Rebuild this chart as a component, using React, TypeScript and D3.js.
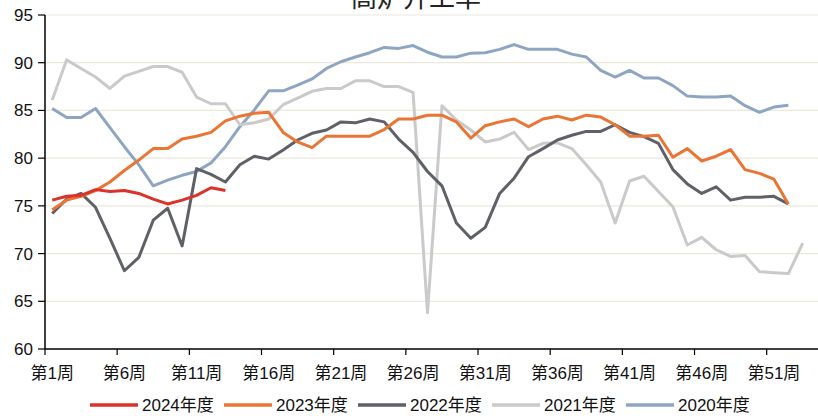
import React from "react";
import * as d3 from "d3";

// 高炉开工率 (%), weekly
const weekCount = 53;
const tickWeeks = [1, 6, 11, 16, 21, 26, 31, 36, 41, 46, 51];
const yTicks = [60, 65, 70, 75, 80, 85, 90, 95];

const y2024 = [75.6, 76.0, 76.1, 76.7, 76.5, 76.6, 76.3, 75.7, 75.2, 75.6, 76.1, 76.9, 76.6];
const y2023 = [
  74.6, 75.6, 76.0, 76.6, 77.5, 78.7, 79.8, 81.0, 81.0, 82.0, 82.3, 82.7, 83.9, 84.4, 84.7, 84.8,
  82.7, 81.7, 81.1, 82.3, 82.3, 82.3, 82.3, 83.0, 84.1, 84.1, 84.5, 84.5, 83.8, 82.1, 83.4, 83.8,
  84.1, 83.3, 84.1, 84.4, 84.0, 84.5, 84.3, 83.5, 82.3, 82.3, 82.4, 80.1, 81.0, 79.7, 80.2, 80.9,
  78.8, 78.4, 77.8, 75.2,
];
const y2022 = [
  74.2, 75.7, 76.3, 74.85, 71.6, 68.2, 69.6, 73.5, 74.75, 70.8, 78.9, 78.3, 77.5, 79.3, 80.2, 79.9,
  80.85, 81.9, 82.6, 82.95, 83.8, 83.7, 84.1, 83.8, 82.0, 80.6, 78.6, 77.1, 73.2, 71.6, 72.75, 76.3,
  77.9, 80.15, 81.0, 81.9, 82.4, 82.8, 82.8, 83.5, 82.7, 82.25, 81.55, 78.8, 77.3, 76.3, 77.0, 75.6,
  75.9, 75.9, 76.0, 75.2,
];
const y2021 = [
  86.1, 90.3, 89.4, 88.5, 87.3, 88.6, 89.1, 89.6, 89.6, 89.0, 86.4, 85.7, 85.7, 83.5, 83.7, 84.1,
  85.6, 86.3, 87.0, 87.3, 87.3, 88.1, 88.1, 87.5, 87.5, 86.9, 63.8, 85.5, 84.0, 82.95, 81.7, 82.0,
  82.7, 80.9, 81.55, 81.6, 81.0, 79.3, 77.5, 73.2, 77.6, 78.1, 76.5, 74.9, 70.9, 71.7, 70.4, 69.7,
  69.8, 68.1, 68.0, 67.9, 71.1,
];
const y2020 = [
  85.2, 84.25, 84.25, 85.2, 83.2, 81.2, 79.3, 77.1, 77.7, 78.2, 78.6, 79.5, 81.2, 83.3, 85.05, 87.05,
  87.05, 87.65, 88.3, 89.4, 90.1, 90.6, 91.05, 91.6, 91.5, 91.8, 91.1, 90.6, 90.6, 91.0, 91.05, 91.4,
  91.9, 91.4, 91.4, 91.4, 90.9, 90.6, 89.2, 88.5, 89.2, 88.4, 88.4, 87.6, 86.5, 86.4, 86.4, 86.5,
  85.5, 84.8, 85.35, 85.55,
];

const series = [
  { name: "2024年度", values: y2024, color: "#dd3229" },
  { name: "2023年度", values: y2023, color: "#ea7534" },
  { name: "2022年度", values: y2022, color: "#5f6168" },
  { name: "2021年度", values: y2021, color: "#cacaca" },
  { name: "2020年度", values: y2020, color: "#8ea6c4" },
];

const W = 818;
const H = 419;
const left = 45;
const top = 15;
const bottom = 349;
const font = "'Liberation Sans', Arial, 'Noto Sans CJK SC', sans-serif";

export default function App() {
  const x = d3.scaleLinear().domain([0, weekCount]).range([left, 810]);
  const y = d3.scaleLinear().domain([60, 95]).range([bottom, top]);
  const line = d3
    .line<number>()
    .x((_, i) => x(i + 0.5))
    .y((d) => y(d));

  // draw the lighter years first so newer ones sit on top
  const drawOrder = [...series].reverse();

  return (
    <svg
      width={W}
      height={H}
      style={{ position: "absolute", left: 0, top: 0, background: "#fff" }}
      fontFamily={font}
    >
      {/* title is partly cropped at the top, as in the source image */}
      <text x={416} y={7} textAnchor="middle" fontSize={26} fill="#222">
        高炉开工率
      </text>

      {yTicks
        .filter((t) => t > 60)
        .map((t) => (
          <line key={t} x1={left} x2={W} y1={y(t)} y2={y(t)} stroke="#ece8dc" strokeWidth={1.2} />
        ))}

      {drawOrder.map((s) => (
        <path
          key={s.name}
          d={line(s.values) || ""}
          fill="none"
          stroke={s.color}
          strokeWidth={3}
          strokeLinejoin="round"
        />
      ))}

      {/* y axis */}
      <line x1={left} x2={left} y1={top} y2={bottom} stroke="#000" strokeWidth={1.5} />
      {yTicks.map((t) => (
        <g key={t}>
          <line x1={left - 7} x2={left} y1={y(t)} y2={y(t)} stroke="#000" strokeWidth={1.2} />
          <text x={33} y={y(t)} dy="0.35em" textAnchor="end" fontSize={17} fill="#111">
            {t}
          </text>
        </g>
      ))}

      {/* x axis */}
      <line x1={left} x2={W} y1={bottom} y2={bottom} stroke="#000" strokeWidth={1.5} />
      {tickWeeks.map((w) => (
        <g key={w}>
          <line x1={x(w - 1)} x2={x(w - 1)} y1={bottom} y2={bottom + 6} stroke="#000" strokeWidth={1.2} />
          <text x={x(w - 0.5)} y={379} textAnchor="middle" fontSize={17} fill="#111">
            {`第${w}周`}
          </text>
        </g>
      ))}

      {/* legend */}
      {series.map((s, i) => {
        const lx = 90 + i * 134;
        return (
          <g key={s.name}>
            <line x1={lx} x2={lx + 48} y1={405} y2={405} stroke={s.color} strokeWidth={3.5} />
            <text x={lx + 52} y={405} dy="0.36em" fontSize={17} fill="#111">
              {s.name}
            </text>
          </g>
        );
      })}
    </svg>
  );
}
